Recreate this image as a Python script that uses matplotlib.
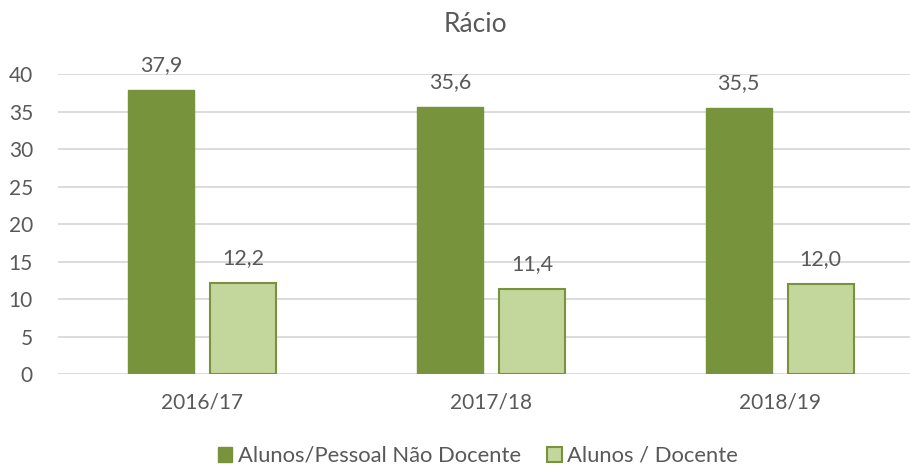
import numpy as np
import matplotlib.pyplot as plt

plt.rcParams['font.family'] = ['Lato', 'DejaVu Sans']

anos = ['2016/17', '2017/18', '2018/19']
nao_docente = [37.9, 35.6, 35.5]
docente = [12.2, 11.4, 12.0]
series_names = ['Alunos/Pessoal Não Docente', 'Alunos / Docente']

txt = '#595959'
dark = '#77933C'
light = '#C3D69B'

fig = plt.figure(figsize=(9.1, 4.66), dpi=100)
ax = fig.add_axes([58/910, 0.1974, 866/910, 0.6438])

x = np.arange(len(anos))
w = 0.228
off = 0.142
b1 = ax.bar(x - off, nao_docente, w, color=dark, edgecolor=dark, linewidth=1, label=series_names[0], zorder=3)
b2 = ax.bar(x + off, docente, w, color=light, edgecolor=dark, linewidth=1.5, label=series_names[1], zorder=3)

for bars in (b1, b2):
    for r in bars:
        v = r.get_height()
        ax.annotate(f'{v:.1f}'.replace('.', ','), (r.get_x() + r.get_width()/2, v),
                    xytext=(0, 10.5), textcoords='offset points', ha='center', va='bottom',
                    fontsize=15.5, color=txt)

ax.set_xlim(-0.5, 2.5)
ax.set_ylim(0, 40)
ax.set_yticks(range(0, 41, 5))
ax.set_xticks(x)
ax.set_xticklabels(anos)
ax.grid(axis='y', color='#D9D9D9', linewidth=1.3, zorder=0)
for s in ax.spines.values():
    s.set_visible(False)
ax.tick_params(axis='both', length=0, labelsize=15, labelcolor=txt)
ax.tick_params(axis='x', pad=13)
ax.tick_params(axis='y', pad=18)

fig.text(475/910, 1 - 24/466, 'Rácio', ha='center', va='center', fontsize=19, color=txt)

leg = fig.legend(loc='center', bbox_to_anchor=(478/910, 1 - 456/466), ncol=2, frameon=False,
                 fontsize=15.8, labelcolor=txt, handlelength=0.65, handleheight=0.65,
                 handletextpad=0.25, columnspacing=1.2)

fig.savefig('out.png', dpi=100)
